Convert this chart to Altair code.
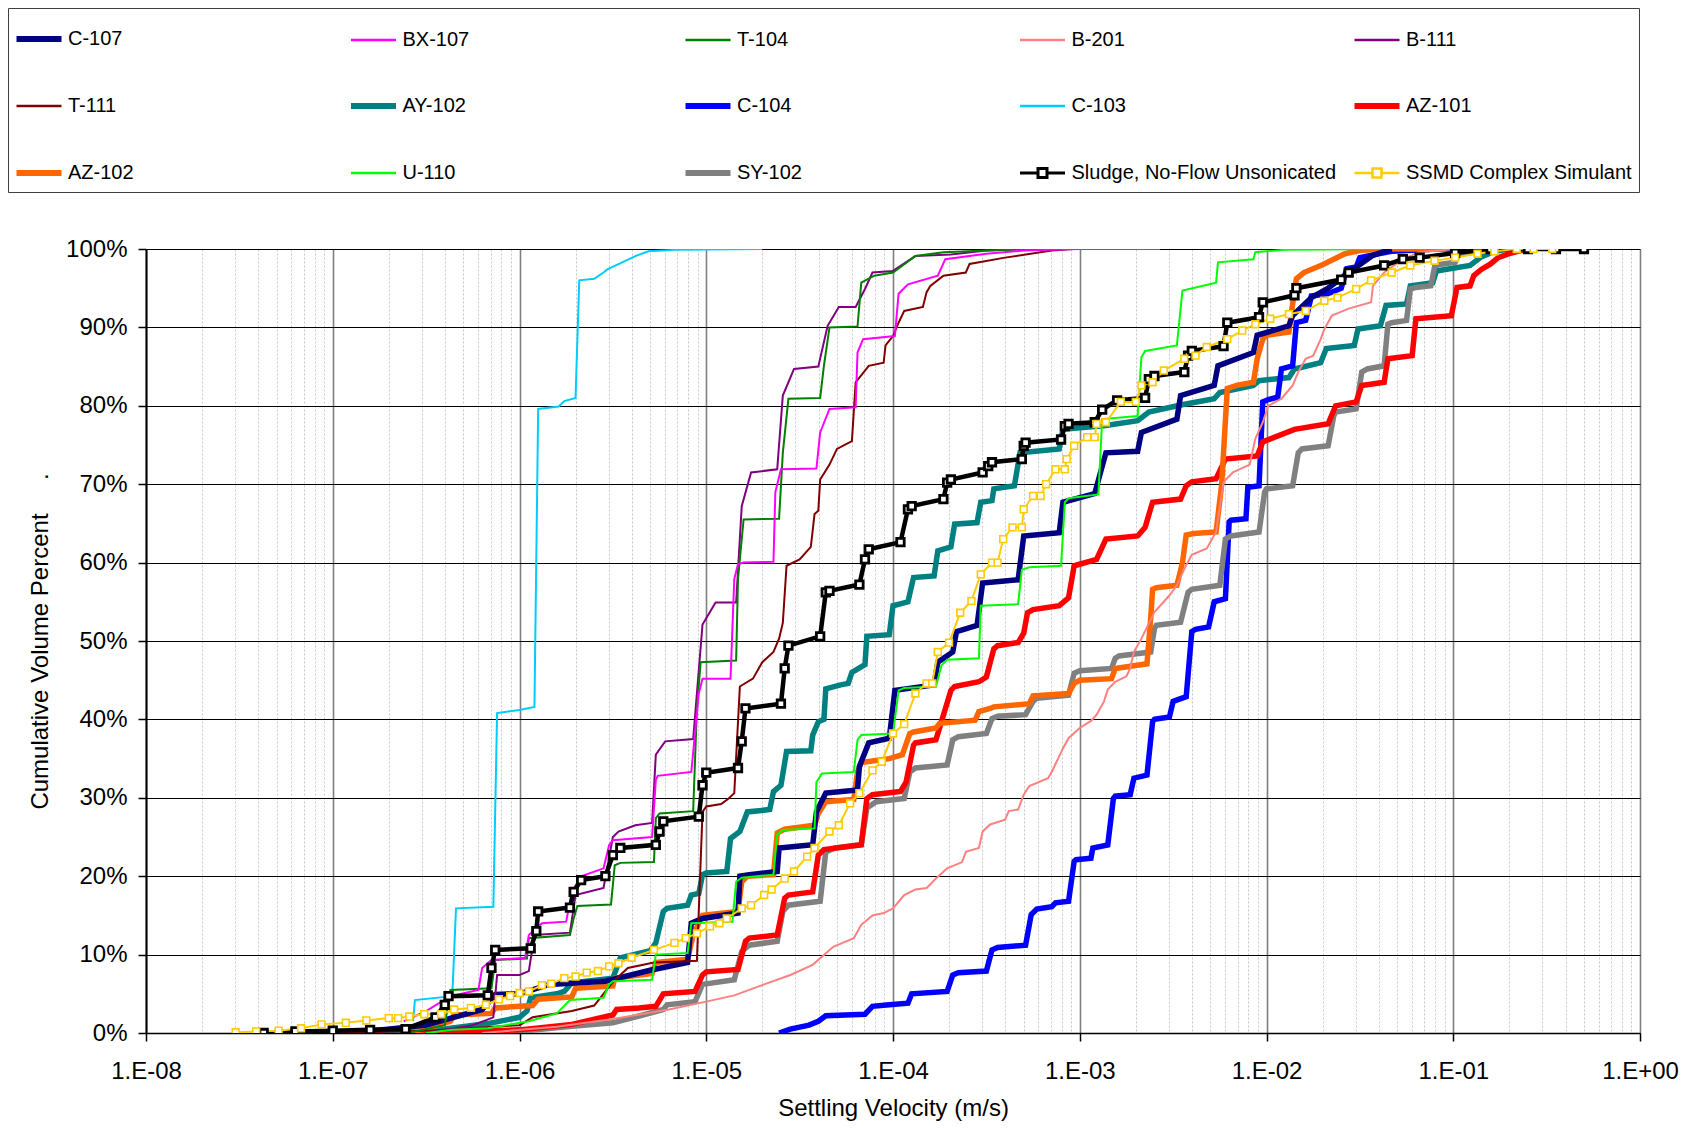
import altair as alt
import pandas as pd

# ---- data: (log10 settling velocity [m/s], cumulative volume %) ----
C107 = [(-6.9,0),(-6.5,1.0),(-6.2,3.0),(-6.13,4.9),(-6.0,5.0),(-5.84,6.2),(-5.54,6.6),(-5.3,8.0),(-5.1,9.0),
        (-5.08,14.0),(-5.02,14.6),(-4.83,15.3),(-4.82,20.0),(-4.77,20.2),(-4.62,20.6),(-4.61,23.6),(-4.43,24.0),
        (-4.41,28.2),(-4.36,30.6),(-4.19,31.0),(-4.18,34.0),(-4.13,37.0),(-4.02,37.6),(-3.99,43.7),(-3.78,44.4),
        (-3.76,47.3),(-3.68,48.6),(-3.66,51.2),(-3.55,52.0),(-3.52,57.4),(-3.33,57.8),(-3.30,63.4),(-3.11,63.8),
        (-3.09,67.7),(-2.92,68.8),(-2.86,74.0),(-2.69,74.2),(-2.67,76.6),(-2.48,78.3),(-2.46,81.3),(-2.28,82.6),
        (-2.26,85.1),(-2.07,86.8),(-2.05,89.0),(-1.88,90.2),(-1.86,91.5),(-1.76,93.8),(-1.67,95.0),(-1.56,97.0),
        (-1.43,99.2),(-1.33,100)]
BX107 = [(-6.62,1.5),(-6.50,2.8),(-6.37,4.7),(-6.22,5.5),(-6.20,8.3),(-6.15,9.3),(-5.97,9.6),(-5.95,12.5),
         (-5.88,14.0),(-5.75,14.2),(-5.72,18.0),(-5.67,20.0),(-5.55,21.0),(-5.52,24.0),(-5.50,24.6),(-5.29,25.0),
         (-5.27,32.3),(-5.26,32.8),(-5.08,33.3),(-5.04,43.3),(-5.02,45.2),(-4.87,45.2),(-4.85,57.9),(-4.83,59.8),
         (-4.80,60.0),(-4.64,60.1),(-4.63,69.0),(-4.60,71.9),(-4.41,72.0),(-4.39,76.6),(-4.34,79.6),(-4.20,79.8),
         (-4.19,86.8),(-4.16,88.5),(-3.99,88.9),(-3.97,94.3),(-3.92,95.5),(-3.76,96.6),(-3.72,98.7),(-3.5,99.4),
         (-3.3,99.8),(-3.0,100),(-2.57,100)]
T104 = [(-6.6,0),(-6.40,1.0),(-6.37,5.5),(-6.15,5.7),(-6.13,9.3),(-5.96,9.5),(-5.95,12.1),(-5.73,12.5),
        (-5.71,14.6),(-5.69,16.2),(-5.51,16.4),(-5.49,21.4),(-5.46,21.7),(-5.28,21.8),(-5.27,27.4),(-5.25,28.0),
        (-5.07,28.3),(-5.05,41.4),(-5.03,47.3),(-4.84,47.5),(-4.83,57.9),(-4.80,65.5),(-4.61,65.6),(-4.59,74.0),
        (-4.56,80.9),(-4.39,81.0),(-4.37,85.1),(-4.34,90.0),(-4.19,90.1),(-4.17,95.7),(-4.10,96.6),(-4.0,97.0),
        (-3.88,99.1),(-3.73,99.6),(-3.5,99.8),(-3.23,100),(-2.94,100)]
B201 = [(-6.2,0),(-5.8,0.8),(-5.5,1.8),(-5.2,3.0),(-5.0,4.0),(-4.85,4.8),(-4.69,6.2),(-4.55,7.4),(-4.43,8.7),
        (-4.32,11.0),(-4.27,11.5),(-4.21,12.1),(-4.17,13.8),(-4.11,15.0),(-4.05,15.3),(-4.0,15.9),(-3.94,17.6),
        (-3.88,18.3),(-3.82,18.5),(-3.77,19.7),(-3.71,21.0),(-3.63,21.8),(-3.61,23.1),(-3.54,23.6),(-3.52,25.7),
        (-3.48,26.6),(-3.40,27.2),(-3.38,28.3),(-3.33,28.5),(-3.30,30.4),(-3.27,31.5),(-3.17,32.5),(-3.15,33.3),
        (-3.09,36.3),(-3.06,37.6),(-3.0,38.9),(-2.94,39.8),(-2.91,40.6),(-2.87,42.3),(-2.85,43.8),(-2.81,44.8),
        (-2.75,45.5),(-2.73,46.5),(-2.71,48.6),(-2.67,50.3),(-2.60,53.7),(-2.52,55.8),(-2.48,57.1),(-2.44,59.2),
        (-2.40,61.0),(-2.32,61.8),(-2.27,63.9),(-2.23,70.3),(-2.18,71.5),(-2.09,72.5),(-2.06,75.8),(-2.02,77.9),
        (-1.99,80.0),(-1.92,80.9),(-1.86,82.6),(-1.83,84.3),(-1.79,86.0),(-1.75,86.4),(-1.71,88.5),(-1.69,89.8),
        (-1.65,91.5),(-1.56,92.4),(-1.44,93.2),(-1.43,95.3),(-1.37,97.0),(-1.27,98.7),(-1.18,99.6),(-0.99,100)]
B111 = [(-6.5,0),(-6.25,1.0),(-6.14,2.0),(-6.12,7.4),(-6.0,7.4),(-5.95,7.9),(-5.92,12.5),(-5.73,12.8),
        (-5.70,17.6),(-5.55,18.5),(-5.50,25.0),(-5.47,25.7),(-5.38,26.5),(-5.29,26.8),(-5.27,35.5),(-5.22,37.2),
        (-5.07,37.5),(-5.02,52.1),(-4.95,54.9),(-4.84,54.9),(-4.81,67.2),(-4.76,71.5),(-4.62,71.9),(-4.59,81.3),
        (-4.53,84.7),(-4.40,85.0),(-4.35,90.2),(-4.29,92.6),(-4.20,92.6),(-4.15,94.9),(-4.11,97.0),(-4.0,97.2),
        (-3.88,99.1),(-3.69,99.3),(-3.5,99.8),(-3.23,100),(-2.94,100)]
T111 = [(-7.0,0),(-6.5,0.3),(-6.0,1.0),(-5.93,2.0),(-5.72,2.8),(-5.6,3.5),(-5.50,6.5),(-5.42,8.3),(-5.28,9.0),
        (-5.05,9.2),(-5.02,28.2),(-5.0,28.9),(-4.92,29.2),(-4.88,29.9),(-4.85,30.6),(-4.82,44.2),(-4.75,45.2),
        (-4.70,47.3),(-4.64,48.6),(-4.61,50.3),(-4.59,52.3),(-4.57,59.6),(-4.50,60.4),(-4.44,62.0),(-4.42,66.2),
        (-4.40,66.6),(-4.39,70.6),(-4.34,72.5),(-4.30,74.5),(-4.22,75.5),(-4.20,83.0),(-4.13,85.1),(-4.05,85.5),
        (-4.04,87.7),(-4.0,88.9),(-3.97,90.6),(-3.94,92.1),(-3.84,92.6),(-3.82,94.5),(-3.80,95.3),(-3.73,96.6),
        (-3.61,97.0),(-3.59,98.1),(-3.40,98.9),(-3.15,99.8),(-3.04,100),(-2.9,100)]
AY102 = [(-6.8,0),(-6.4,0.5),(-6.17,1.2),(-6.0,2.0),(-5.96,2.8),(-5.94,4.5),(-5.80,5.0),(-5.76,5.3),(-5.72,6.4),
         (-5.50,7.0),(-5.46,9.6),(-5.30,10.5),(-5.27,11.5),(-5.23,15.5),(-5.21,15.9),(-5.10,16.3),(-5.08,17.6),
         (-5.04,17.8),(-5.02,20.2),(-5.0,20.4),(-4.89,20.6),(-4.87,24.8),(-4.82,25.7),(-4.78,28.2),(-4.66,28.5),
         (-4.64,30.8),(-4.60,31.6),(-4.57,35.9),(-4.44,36.0),(-4.43,38.0),(-4.40,39.7),(-4.37,40.0),(-4.36,43.9),
         (-4.28,44.4),(-4.24,44.6),(-4.22,46.0),(-4.15,47.0),(-4.14,50.6),(-4.02,50.8),(-4.0,54.5),(-3.92,55.0),
         (-3.89,58.1),(-3.78,58.3),(-3.76,61.5),(-3.69,62.0),(-3.67,64.9),(-3.55,65.1),(-3.53,67.7),(-3.47,67.9),
         (-3.46,69.4),(-3.35,69.8),(-3.32,74.0),(-3.11,74.5),(-3.09,77.0),(-2.86,77.5),(-2.69,78.1),(-2.63,79.2),
         (-2.46,80.1),(-2.28,80.9),(-2.25,81.7),(-2.07,82.6),(-2.04,83.2),(-1.88,83.6),(-1.85,84.7),(-1.71,85.5),
         (-1.68,87.3),(-1.53,87.7),(-1.51,89.8),(-1.39,90.2),(-1.36,92.8),(-1.25,93.0),(-1.23,95.3),(-1.11,95.7),
         (-1.09,97.2),(-0.91,97.9),(-0.85,99.0),(-0.78,99.7),(-0.70,100)]
C104 = [(-4.61,0),(-4.55,0.5),(-4.45,1.0),(-4.40,1.5),(-4.36,2.2),(-4.15,2.4),(-4.11,3.4),(-4.02,3.6),(-3.92,3.8),
        (-3.90,5.0),(-3.71,5.3),(-3.68,7.4),(-3.65,7.7),(-3.50,7.9),(-3.47,10.6),(-3.44,10.9),(-3.29,11.2),
        (-3.26,15.1),(-3.23,15.8),(-3.15,16.1),(-3.13,16.6),(-3.06,16.8),(-3.03,21.9),(-3.02,22.1),(-2.94,22.3),
        (-2.93,23.6),(-2.85,24.0),(-2.82,29.9),(-2.81,30.2),(-2.73,30.4),(-2.71,32.5),(-2.64,32.9),(-2.61,39.7),
        (-2.60,40.0),(-2.52,40.3),(-2.50,42.3),(-2.43,42.9),(-2.40,51.2),(-2.38,51.5),(-2.31,51.8),(-2.28,55.0),
        (-2.22,55.4),(-2.20,65.2),(-2.19,65.4),(-2.11,65.6),(-2.10,69.6),(-2.04,69.8),(-2.02,80.5),(-1.99,80.8),
        (-1.94,81.1),(-1.92,84.7),(-1.86,85.1),(-1.84,90.6),(-1.79,90.9),(-1.76,94.0),(-1.67,94.3),(-1.60,95.0),
        (-1.57,97.5),(-1.52,97.7),(-1.50,98.9),(-1.40,99.4),(-1.33,99.7),(-1.08,100),(-0.96,100)]
C103 = [(-6.57,1.5),(-6.56,4.2),(-6.36,4.7),(-6.34,15.9),(-6.14,16.1),(-6.12,40.8),(-6.0,41.2),(-5.92,41.6),
        (-5.90,79.6),(-5.79,79.9),(-5.76,80.6),(-5.70,81.0),(-5.68,96.0),(-5.60,96.2),(-5.55,97.0),(-5.53,97.4),
        (-5.45,98.3),(-5.38,99.1),(-5.31,99.7),(-5.16,99.9),(-4.70,100)]
AZ101 = [(-6.55,0),(-6.26,0.2),(-6.0,0.4),(-5.72,1.1),(-5.50,2.3),(-5.48,3.0),(-5.36,3.2),(-5.27,3.4),(-5.23,5.0),
         (-5.06,5.3),(-5.02,7.4),(-5.0,7.8),(-4.83,8.1),(-4.79,11.7),(-4.77,12.1),(-4.62,12.5),(-4.58,17.2),
         (-4.56,17.6),(-4.43,18.0),(-4.40,22.7),(-4.37,23.4),(-4.17,24.0),(-4.14,29.9),(-4.11,30.4),(-3.96,30.8),
         (-3.93,32.0),(-3.89,36.7),(-3.88,37.0),(-3.77,37.4),(-3.69,43.7),(-3.67,44.2),(-3.54,44.8),(-3.50,45.4),
         (-3.46,49.0),(-3.44,49.4),(-3.33,49.8),(-3.30,51.0),(-3.28,53.6),(-3.25,54.0),(-3.11,54.5),(-3.06,55.5),
         (-3.03,59.6),(-2.91,60.4),(-2.86,63.0),(-2.69,63.4),(-2.65,64.5),(-2.61,67.7),(-2.46,68.1),(-2.43,69.8),
         (-2.40,70.3),(-2.27,70.7),(-2.22,73.2),(-2.05,73.6),(-2.02,75.4),(-1.85,77.0),(-1.67,77.7),(-1.63,80.0),
         (-1.52,80.5),(-1.49,82.6),(-1.37,83.0),(-1.35,86.0),(-1.22,86.4),(-1.20,91.1),(-1.01,91.5),(-0.98,95.1),
         (-0.91,95.3),(-0.89,96.6),(-0.85,97.4),(-0.80,98.1),(-0.76,98.9),(-0.70,99.4),(-0.64,99.8),(-0.60,100)]
AZ102 = [(-6.62,0),(-6.50,0.5),(-6.37,1.5),(-6.35,2.3),(-6.15,2.5),(-6.13,3.2),(-5.93,3.5),(-5.90,4.3),(-5.72,4.6),
         (-5.70,5.7),(-5.50,6.0),(-5.49,7.0),(-5.29,7.6),(-5.27,9.0),(-5.10,9.4),(-5.07,12.5),(-5.02,15.0),
         (-4.83,15.5),(-4.81,19.3),(-4.78,20.0),(-4.64,20.2),(-4.62,25.5),(-4.58,26.0),(-4.42,26.5),(-4.40,28.0),
         (-4.36,29.5),(-4.21,29.8),(-4.19,33.3),(-4.17,34.5),(-4.02,35.0),(-3.95,35.5),(-3.91,38.2),(-3.89,38.4),
         (-3.77,38.9),(-3.75,39.5),(-3.56,39.9),(-3.54,41.0),(-3.48,41.4),(-3.46,41.6),(-3.27,42.0),(-3.25,43.0),
         (-3.06,43.3),(-3.03,44.6),(-3.0,45.0),(-2.83,45.2),(-2.81,46.5),(-2.64,47.1),(-2.62,52.9),(-2.61,56.6),
         (-2.59,56.8),(-2.48,57.1),(-2.45,60.0),(-2.43,63.5),(-2.39,63.7),(-2.27,63.9),(-2.24,70.0),(-2.21,82.2),
         (-2.16,82.6),(-2.07,83.0),(-2.05,86.0),(-2.02,88.5),(-2.0,89.0),(-1.88,89.4),(-1.86,93.0),(-1.84,96.2),
         (-1.80,97.0),(-1.70,98.0),(-1.58,99.4),(-1.50,99.8),(-1.39,100),(-1.04,100)]
U110 = [(-6.5,0),(-6.36,0.4),(-6.17,0.6),(-5.95,1.5),(-5.80,2.5),(-5.73,4.2),(-5.55,4.5),(-5.52,6.2),(-5.50,6.6),
        (-5.29,6.8),(-5.27,10.0),(-5.10,10.2),(-5.08,14.0),(-4.86,14.2),(-4.84,19.3),(-4.81,19.8),(-4.64,20.2),
        (-4.62,25.3),(-4.59,25.9),(-4.42,26.1),(-4.41,32.0),(-4.38,33.1),(-4.21,33.3),(-4.19,37.4),(-4.17,38.0),
        (-4.0,38.2),(-3.97,43.7),(-3.94,44.0),(-3.77,44.2),(-3.74,46.9),(-3.71,47.6),(-3.54,47.8),(-3.53,54.5),
        (-3.33,54.7),(-3.31,59.1),(-3.27,59.4),(-3.10,59.6),(-3.08,67.7),(-3.06,68.2),(-2.90,68.7),(-2.88,78.3),
        (-2.69,78.7),(-2.67,86.2),(-2.65,87.0),(-2.48,87.7),(-2.45,94.7),(-2.27,95.7),(-2.26,98.3),(-2.07,98.7),
        (-2.06,99.6),(-1.9,99.9),(-1.39,100)]
SY102 = [(-6.24,0),(-6.0,0.2),(-5.75,0.8),(-5.5,1.3),(-5.34,2.3),(-5.23,3.0),(-5.21,3.6),(-5.06,4.0),(-5.02,6.2),
         (-4.85,6.8),(-4.81,10.4),(-4.77,11.2),(-4.62,11.7),(-4.59,15.5),(-4.56,16.3),(-4.39,16.8),(-4.36,23.1),
         (-4.31,23.6),(-4.17,24.0),(-4.14,28.7),(-4.09,29.5),(-3.94,29.9),(-3.91,33.3),(-3.88,33.8),(-3.71,34.2),
         (-3.68,37.4),(-3.65,37.8),(-3.50,38.2),(-3.47,40.1),(-3.44,40.4),(-3.29,40.6),(-3.25,42.3),(-3.23,42.7),
         (-3.06,43.1),(-3.03,45.9),(-3.0,46.2),(-2.83,46.5),(-2.81,47.8),(-2.79,48.1),(-2.62,48.6),(-2.60,51.6),
         (-2.59,52.0),(-2.46,52.4),(-2.42,56.2),(-2.40,56.6),(-2.25,57.1),(-2.22,63.0),(-2.19,63.4),(-2.04,63.9),
         (-2.01,69.0),(-2.0,69.4),(-1.86,69.8),(-1.83,74.0),(-1.81,74.5),(-1.67,74.9),(-1.64,78.7),(-1.63,79.2),
         (-1.52,79.6),(-1.49,84.3),(-1.46,84.7),(-1.37,85.1),(-1.35,90.4),(-1.33,90.6),(-1.25,90.9),(-1.23,94.9),
         (-1.20,95.1),(-1.12,95.3),(-1.10,97.7),(-1.08,98.0),(-0.99,98.3),(-0.97,99.4),(-0.87,99.8),(-0.80,100),
         (-0.75,100)]
SLUDGE = [(-7.37,0),(-7.2,0.2),(-7.0,0.3),(-6.8,0.4),(-6.61,0.5),(-6.45,2.0),(-6.40,3.6),(-6.38,4.7),(-6.17,4.8),
          (-6.15,8.3),(-6.13,10.6),(-5.94,10.8),(-5.91,13.0),(-5.90,15.5),(-5.73,16.0),(-5.71,18.0),(-5.67,19.5),
          (-5.54,20.0),(-5.50,22.7),(-5.46,23.6),(-5.27,24.0),(-5.25,25.7),(-5.23,27.0),(-5.04,27.6),(-5.02,31.6),
          (-5.0,33.2),(-4.83,33.8),(-4.81,37.2),(-4.79,41.4),(-4.6,42.0),(-4.58,46.5),(-4.56,49.4),(-4.39,50.6),
          (-4.36,56.2),(-4.34,56.4),(-4.18,57.2),(-4.15,60.4),(-4.13,61.7),(-3.96,62.6),(-3.92,66.8),(-3.9,67.2),
          (-3.73,68.1),(-3.71,70.2),(-3.69,70.6),(-3.52,71.5),(-3.49,72.3),(-3.47,72.8),(-3.31,73.2),(-3.30,74.9),
          (-3.29,75.3),(-3.1,75.7),(-3.08,77.4),(-3.06,77.7),(-2.92,77.9),(-2.88,79.5),(-2.80,80.7),(-2.65,81.0),
          (-2.63,83.4),(-2.6,83.8),(-2.44,84.3),(-2.42,86.4),(-2.4,87.0),(-2.23,87.6),(-2.21,90.6),(-2.04,91.3),
          (-2.02,93.2),(-1.85,94.1),(-1.84,95.0),(-1.6,96.1),(-1.56,97.0),(-1.37,97.9),(-1.27,98.7),(-1.18,98.9),
          (-0.99,99.5),(-0.8,100),(-0.6,100),(-0.45,100),(-0.30,100)]
SSMD = [(-7.52,0.1),(-7.41,0.2),(-7.29,0.3),(-7.17,0.6),(-7.06,1.1),(-6.93,1.3),(-6.82,1.6),(-6.70,1.9),(-6.65,1.9),
        (-6.59,2.1),(-6.51,2.4),(-6.42,2.4),(-6.35,3.0),(-6.26,3.2),(-6.18,3.6),(-6.11,4.3),(-6.05,4.7),(-6.0,5.1),
        (-5.95,5.3),(-5.88,6.1),(-5.83,6.3),(-5.76,7.0),(-5.70,7.2),(-5.64,7.7),(-5.58,7.9),(-5.52,8.5),(-5.47,8.9),
        (-5.40,9.6),(-5.28,10.6),(-5.17,11.5),(-5.11,12.1),(-5.05,12.7),(-4.98,13.6),(-4.93,14.0),(-4.89,14.6),
        (-4.81,15.9),(-4.76,16.3),(-4.69,17.6),(-4.65,18.3),(-4.58,19.7),(-4.53,20.6),(-4.46,22.5),(-4.42,23.6),
        (-4.34,25.7),(-4.29,26.5),(-4.23,29.3),(-4.18,30.6),(-4.11,33.5),(-4.06,34.6),(-4.0,38.2),(-3.94,39.4),
        (-3.88,43.3),(-3.82,44.6),(-3.79,44.6),(-3.76,48.6),(-3.70,49.8),(-3.64,53.6),(-3.58,55.1),(-3.53,58.5),
        (-3.47,60.0),(-3.44,60.0),(-3.41,63.0),(-3.36,64.5),(-3.31,64.5),(-3.30,66.8),(-3.25,68.5),(-3.21,68.5),
        (-3.18,70.0),(-3.13,71.9),(-3.08,71.9),(-3.07,73.2),(-3.03,74.9),(-2.96,76.0),(-2.92,76.0),(-2.91,77.7),
        (-2.86,77.9),(-2.78,80.5),(-2.70,80.5),(-2.67,82.6),(-2.61,83.0),(-2.55,84.5),(-2.44,86.0),(-2.38,86.4),
        (-2.32,87.5),(-2.21,88.5),(-2.13,89.6),(-2.06,90.4),(-1.98,91.1),(-1.88,91.7),(-1.79,92.1),(-1.69,93.4),
        (-1.62,93.8),(-1.52,94.9),(-1.44,96.0),(-1.33,97.0),(-1.23,97.9),(-1.10,98.5),(-0.99,98.9),(-0.87,99.4),
        (-0.78,99.7),(-0.66,100),(-0.57,100),(-0.47,100)]

SERIES = ["C-107", "BX-107", "T-104", "B-201", "B-111",
          "T-111", "AY-102", "C-104", "C-103", "AZ-101",
          "AZ-102", "U-110", "SY-102", "Sludge, No-Flow Unsonicated", "SSMD Complex Simulant"]
COLORS = ["#000080", "#FF00FF", "#008000", "#FF8080", "#800080",
          "#800000", "#008080", "#0000FF", "#00CCFF", "#FF0000",
          "#FF6600", "#00FF00", "#808080", "#000000", "#FFCC00"]
THICK = ["C-107", "AY-102", "C-104", "AZ-101", "AZ-102", "SY-102"]
MARKED = ["Sludge, No-Flow Unsonicated", "SSMD Complex Simulant"]

VALUES = {"C-107": C107, "BX-107": BX107, "T-104": T104, "B-201": B201, "B-111": B111,
          "T-111": T111, "AY-102": AY102, "C-104": C104, "C-103": C103, "AZ-101": AZ101,
          "AZ-102": AZ102, "U-110": U110, "SY-102": SY102,
          "Sludge, No-Flow Unsonicated": SLUDGE, "SSMD Complex Simulant": SSMD}

# drawing order (thin lines over thick ones, marker series last)
DRAW_ORDER = ["AY-102", "C-104", "SY-102", "AZ-101", "AZ-102", "C-107",
              "B-201", "C-103", "T-111", "B-111", "T-104", "BX-107", "U-110",
              "Sludge, No-Flow Unsonicated", "SSMD Complex Simulant"]

rows = []
for s in DRAW_ORDER:
    lw = 5.5 if s in THICK else (4.5 if s == MARKED[0] else 2)
    for i, (lv, p) in enumerate(VALUES[s]):
        rows.append({"series": s, "v": 10 ** lv, "pct": p, "i": i, "lw": lw,
                     "mw": 2.8 if s == MARKED[0] else 1.6,
                     "ms": 56 if s == MARKED[0] else 46})
df = pd.DataFrame(rows)
mk = df[df["series"].isin(MARKED)]

FONT = "Liberation Sans"
MAJOR = "abs(log(datum.value)/LN10 - round(log(datum.value)/LN10)) < 0.001"
EXP = "round(log(datum.value)/LN10)"
label_expr = (f"{MAJOR} ? ('1.E' + ({EXP} < 0 ? '-' : '+') + (abs({EXP}) < 10 ? '0' : '') + abs({EXP})) : ''")

xticks = [k * 10.0 ** e for e in range(-8, 0) for k in range(1, 10)] + [1.0]

sym_type = ("((datum.value == 'Sludge, No-Flow Unsonicated' || datum.value == 'SSMD Complex Simulant')"
            " ? 'M-1,0H-0.2M0.2,0H1M-0.2,-0.2H0.2V0.2H-0.2Z' : 'stroke')")
sym_width = ("(indexof(['C-107','AY-102','C-104','AZ-101','AZ-102','SY-102'], datum.value) >= 0 ? 6 : "
             "(datum.value == 'Sludge, No-Flow Unsonicated' ? 3 : 2.5))")

legend = alt.Legend(title=None, orient="none", direction="horizontal", legendX=-138, legendY=-241,
                    columns=5, gridAlign="all", columnPadding=5.5, rowPadding=31, padding=7,
                    symbolSize=2025, symbolType={"expr": sym_type},
                    symbolStrokeWidth={"expr": sym_width}, symbolOpacity=1,
                    labelFont=FONT, labelFontSize=20, labelColor="black", labelOffset=5,
                    labelLimit=500, strokeColor="#404040", fillColor="white")

color = alt.Color("series:N", scale=alt.Scale(domain=SERIES, range=COLORS), legend=legend, sort=SERIES)

xenc = alt.X("v:Q", scale=alt.Scale(type="log", domain=[1e-8, 1], nice=False),
             axis=alt.Axis(values=xticks, labelExpr=label_expr, title="Settling Velocity (m/s)",
                           grid=True,
                           gridColor={"condition": {"test": MAJOR, "value": "#7f7f7f"}, "value": "#c8c8c8"},
                           gridDash={"condition": {"test": MAJOR, "value": []}, "value": [2, 2]},
                           gridWidth={"condition": {"test": MAJOR, "value": 1.6}, "value": 1},
                           tickOpacity={"condition": {"test": MAJOR, "value": 1}, "value": 0},
                           tickSize=8, tickColor="black", tickWidth=1.5,
                           domainColor="black", domainWidth=1.5,
                           labelFont=FONT, labelFontSize=24, labelColor="black", labelPadding=18,
                           labelOverlap=False, labelFlush=False, labelBound=False,
                           titleFont=FONT, titleFontSize=24, titleFontWeight="normal",
                           titleColor="black", titlePadding=13))
yenc = alt.Y("pct:Q", scale=alt.Scale(domain=[0, 100], nice=False),
             axis=alt.Axis(values=list(range(0, 101, 10)), labelExpr="datum.value + '%'",
                           title="Cumulative Volume Percent\u00a0\u00a0\u00a0\u00a0\u00a0.",
                           grid=True, gridColor="black", gridWidth=1.2,
                           tickSize=8, tickColor="black", tickWidth=1.5,
                           domainColor="black", domainWidth=2,
                           labelFont=FONT, labelFontSize=24, labelColor="black", labelPadding=11,
                           titleFont=FONT, titleFontSize=24, titleFontWeight="normal",
                           titleColor="black", titlePadding=13))

lines = alt.Chart(df).mark_line(strokeJoin="miter", strokeCap="butt", clip=True).encode(
    x=xenc, y=yenc, color=color,
    strokeWidth=alt.StrokeWidth("lw:Q", scale=None, legend=None),
    order=alt.Order("i:Q"),
    detail="series:N",
)

markers = alt.Chart(mk).mark_point(shape="square", filled=False, fill="white",
                                   fillOpacity=1, opacity=1, clip=True).encode(
    x=alt.X("v:Q"), y=alt.Y("pct:Q"), color=color,
    strokeWidth=alt.StrokeWidth("mw:Q", scale=None, legend=None),
    size=alt.Size("ms:Q", scale=None, legend=None),
)

chart = alt.layer(lines, markers).properties(
    width=1494, height=784,
    autosize=alt.AutoSizeParams(type="none"),
    padding={"left": 138, "top": 241, "right": 40, "bottom": 88},
).configure_view(stroke="#808080", strokeWidth=2).configure(background="white")

chart.save("out.html", embed_options={"renderer": "svg", "actions": False})
